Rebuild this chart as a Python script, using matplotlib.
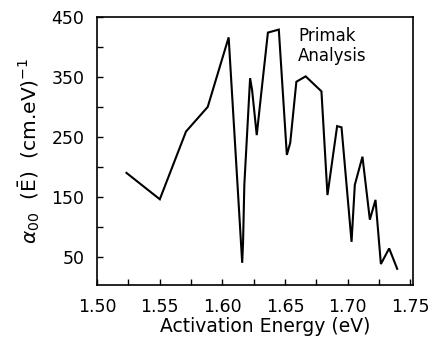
import numpy as np
import matplotlib
matplotlib.use("Agg")
import matplotlib.pyplot as plt
from matplotlib.ticker import MultipleLocator, FixedLocator

# Primak analysis: attempt-to-escape prefactor vs activation energy
energy = [1.5235, 1.5501, 1.5710, 1.5883, 1.6050, 1.6158, 1.6165, 1.6175,
          1.6221, 1.6237, 1.6274, 1.6310, 1.6363, 1.6450, 1.6514, 1.6541,
          1.6590, 1.6664, 1.6790, 1.6838, 1.6915, 1.6950, 1.7030, 1.7056,
          1.7117, 1.7176, 1.7221, 1.7264, 1.7330, 1.7394]
alpha00 = [190, 146, 259, 300, 416, 40, 75, 170,
           348, 328, 253, 323, 424, 429, 220, 240,
           342, 351, 326, 153, 268, 266, 75, 170,
           217, 112, 145, 38, 64, 30]

x_major = [1.50, 1.55, 1.60, 1.65, 1.70, 1.75]
x_labels = ["1.50", "1.55", "1.60", "1.65", "1.70", "1.75"]
y_major = [50, 150, 250, 350, 450]
y_labels = ["50", "150", "250", "350", "450"]

plt.rcParams["font.family"] = ["DejaVu Sans"]

fig = plt.figure(figsize=(4.32, 3.44), dpi=100)
ax = fig.add_axes([0.2245, 0.1715, 0.7315, 0.7791])

ax.plot(energy, alpha00, color="black", lw=1.5, solid_joinstyle="miter")

ax.set_xlim(1.50, 1.752)
ax.set_ylim(3, 450)

ax.xaxis.set_major_locator(FixedLocator(x_major))
ax.set_xticklabels(x_labels)
ax.xaxis.set_minor_locator(MultipleLocator(0.025))
ax.yaxis.set_major_locator(FixedLocator(y_major))
ax.set_yticklabels(y_labels)
ax.yaxis.set_minor_locator(MultipleLocator(50))

ax.tick_params(axis="both", which="both", direction="in", top=False, right=False,
               width=1.0, length=4, labelsize=12.5)
ax.tick_params(axis="y", which="major", pad=9)
ax.tick_params(axis="x", which="major", pad=9)

for s in ax.spines.values():
    s.set_linewidth(1.2)

ax.set_xlabel("Activation Energy (eV)", fontsize=13.5)
ax.xaxis.set_label_coords(0.532, -0.118)
ax.set_ylabel(r"$\alpha_{00}$  ($\bar{\mathrm{E}}$)  (cm.eV)$^{-1}$",
              fontsize=14.5, labelpad=7)

ax.text(0.637, 0.962, "Primak\nAnalysis", transform=ax.transAxes,
        fontsize=12, ha="left", va="top", linespacing=1.1)

fig.savefig("out.png", dpi=100)
